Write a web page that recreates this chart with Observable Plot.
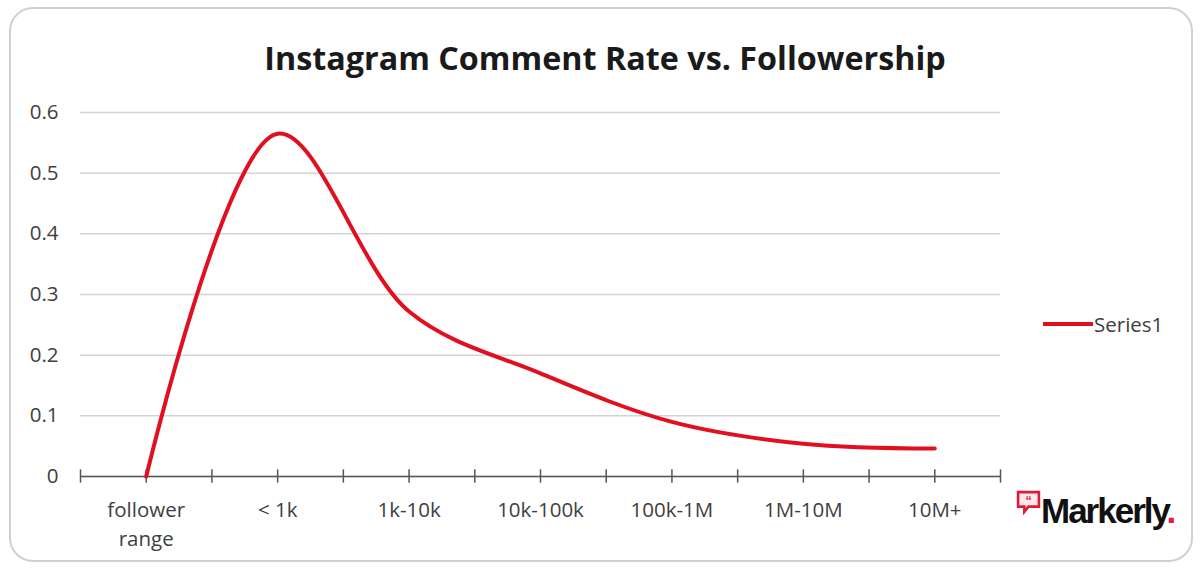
<!DOCTYPE html>
<html>
<head>
<meta charset="utf-8">
<script src="https://cdn.jsdelivr.net/npm/d3@7"></script>
<script src="https://cdn.jsdelivr.net/npm/@observablehq/plot@0.6"></script>
<style>
  html, body { margin: 0; padding: 0; background: #fff; }
  #wrap { position: relative; width: 1200px; height: 568px; overflow: hidden; font-family: "Open Sans", sans-serif; }
  #frame { position: absolute; left: 9px; top: 7px; width: 1184px; height: 555px; border: 2px solid #d0d0d0; border-radius: 24px; box-sizing: border-box; }
  #title { position: absolute; left: 0; width: 1210px; top: 35px; text-align: center; font-size: 32.3px; font-weight: bold; color: #1a1a1a; letter-spacing: 0px; }
  #legend { position: absolute; left: 1043px; top: 310px; display: flex; align-items: center; font-size: 20.5px; color: #404040; }
  #legend .sw { width: 50px; height: 4px; background: #e01020; margin-right: 1px; }
  #logo { position: absolute; left: 1016px; top: 490px; display: flex; align-items: flex-start; }
  #logo .txt { font-family: "Liberation Sans", Arial, sans-serif; font-weight: bold; font-size: 35px; letter-spacing: -2px; color: #111; line-height: 1; margin-top: 3px; }
  #logo .dot { color: #e01a4a; }
  svg { position: absolute; left: 0; top: 0; }
</style>
</head>
<body>
<div id="wrap">
  <div id="frame"></div>
  <div id="chart"></div>
  <div id="title">Instagram Comment Rate vs. Followership</div>
  <div id="legend"><div class="sw"></div><span>Series1</span></div>
  <div id="logo">
    <svg width="25" height="25" viewBox="0 0 24 24" style="position:static">
      <path d="M2 2 H22 V16 H12 L8 21 V16 H2 Z" fill="#fde8ea" stroke="#e01a3a" stroke-width="2.5"/>
      <text x="12" y="14" text-anchor="middle" font-size="12" font-weight="bold" fill="#e01a3a" font-family="Liberation Sans">“</text>
    </svg>
    <span class="txt">Markerly<span class="dot">.</span></span>
  </div>
</div>
<script>
const categories = ["follower\nrange", "< 1k", "1k-10k", "10k-100k", "100k-1M", "1M-10M", "10M+"];
const commentRate = [0, 0.565, 0.272, 0.17, 0.09, 0.054, 0.046];
const yTicks = [0, 0.1, 0.2, 0.3, 0.4, 0.5, 0.6];
const seriesName = "Series1";

const data = categories.map((c, i) => ({i, category: c, value: commentRate[i], series: seriesName}));
const halfTicks = d3.range(-0.5, categories.length, 0.5);

const chart = Plot.plot({
  width: 1200,
  height: 568,
  marginLeft: 80,
  marginRight: 200,
  marginTop: 112,
  marginBottom: 92,
  style: {fontFamily: "'Open Sans', sans-serif", fontSize: "18px", color: "#404040", background: "transparent"},
  x: {type: "linear", domain: [-0.5, categories.length - 0.5], label: null},
  y: {domain: [0, 0.6], label: null},
  marks: [
    Plot.gridY(yTicks, {stroke: "#d4d4d4", strokeOpacity: 1, strokeWidth: 1.5}),
    Plot.axisY(yTicks, {tickSize: 0, tickPadding: 22, tickFormat: d => d === 0 ? "0" : d3.format(".1f")(d), fill: "#404040", fontSize: 20.5, label: null}),
    Plot.ruleY([0], {stroke: "#555", strokeWidth: 1.5}),
    Plot.ruleX(halfTicks, {y1: -0.011, y2: 0.011, stroke: "#555", strokeWidth: 1.5}),
    Plot.axisX(d3.range(categories.length), {tickSize: 0, tickPadding: 19, tickFormat: i => categories[i], fill: "#404040", fontSize: 20.5, lineHeight: 1.45, textAnchor: "middle", lineAnchor: "top", label: null}),
    Plot.line(data, {x: "i", y: "value", stroke: "#e01020", strokeWidth: 4, curve: "catmull-rom"})
  ]
});
document.getElementById("chart").appendChild(chart);
</script>
</body>
</html>
